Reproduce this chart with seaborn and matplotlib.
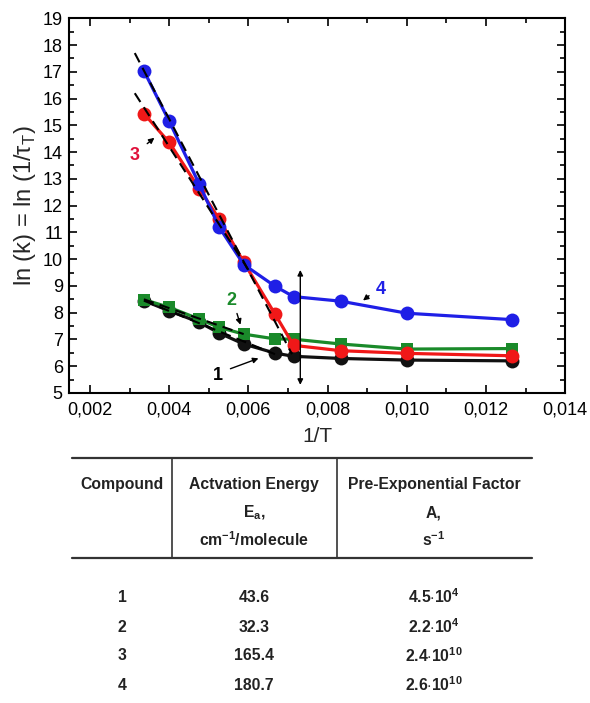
import matplotlib
matplotlib.use("Agg")
import matplotlib.pyplot as plt
import matplotlib.ticker as mticker
import pandas as pd
import seaborn as sns

# inverse temperature, 1/T
inv_t = [0.00336, 0.00400, 0.00476, 0.00526, 0.00588, 0.00667,
         0.00714, 0.00833, 0.01000, 0.01266]

ln_k_1 = [8.45, 8.07, 7.64, 7.24, 6.83, 6.49, 6.37, 6.29, 6.23, 6.20]
ln_k_2 = [8.49, 8.20, 7.76, 7.45, 7.20, 7.02, 7.01, 6.83, 6.64, 6.66]
ln_k_3 = [15.44, 14.36, 12.63, 11.50, 9.89, 7.95, 6.78, 6.58, 6.48, 6.39]
ln_k_4 = [17.04, 15.15, 12.80, 11.20, 9.80, 8.99, 8.60, 8.43, 7.98, 7.74]

# dashed Arrhenius fits (end points)
fit_x_1 = [0.00336, 0.00667]
fit_y_1 = [8.45, 6.45]
fit_x_2 = [0.00336, 0.00588]
fit_y_2 = [8.50, 7.20]
fit_x_3 = [0.00313, 0.00600]
fit_y_3 = [16.20, 9.60]
fit_x_4 = [0.00313, 0.00710]
fit_y_4 = [17.70, 6.45]

compounds = ["1", "2", "3", "4"]
act_energy = ["43.6", "32.3", "165.4", "180.7"]
pre_exp = [r"4.5$\cdot$10$^\mathbf{4}$", r"2.2$\cdot$10$^\mathbf{4}$",
           r"2.4$\cdot$10$^\mathbf{10}$", r"2.6$\cdot$10$^\mathbf{10}$"]

colors = {"1": "#111111", "2": "#1a8a2a", "3": "#f01818", "4": "#1f1fe6"}

sns.set_theme(style="ticks")
plt.rcParams["font.family"] = ["Liberation Sans", "DejaVu Sans"]
plt.rcParams["mathtext.fontset"] = "custom"
plt.rcParams["mathtext.rm"] = "Liberation Sans"
plt.rcParams["mathtext.bf"] = "Liberation Sans:bold"

df = pd.DataFrame({
    "inv_t": inv_t * 4,
    "ln_k": ln_k_1 + ln_k_2 + ln_k_3 + ln_k_4,
    "compound": [c for c in compounds for _ in inv_t],
})

fig = plt.figure(figsize=(5.9, 7.03), dpi=100)
ax = fig.add_axes([0.117, 0.441, 0.841, 0.533])

for c in compounds:
    sub = df[df["compound"] == c]
    sns.lineplot(
        data=sub, x="inv_t", y="ln_k", ax=ax,
        color=colors[c], marker="s" if c == "2" else "o",
        markersize=8 if c == "2" else 10,
        markeredgewidth=0, linewidth=2.3, legend=False,
        zorder=3,
    )

fits = pd.DataFrame({
    "x": fit_x_1 + fit_x_2 + fit_x_3 + fit_x_4,
    "y": fit_y_1 + fit_y_2 + fit_y_3 + fit_y_4,
    "fit": ["1", "1", "2", "2", "3", "3", "4", "4"],
})
for f in compounds:
    sub = fits[fits["fit"] == f]
    sns.lineplot(data=sub, x="x", y="y", ax=ax, color="black",
                 linewidth=1.5, linestyle=(0, (5, 3)), legend=False, zorder=4)

# vertical marker of the transition
ax.annotate("", xy=(0.00731, 5.2), xytext=(0.00731, 9.7),
            arrowprops=dict(arrowstyle="<|-|>", color="black", lw=1.0,
                            mutation_scale=8), zorder=5)

arrow = dict(arrowstyle="-|>", color="black", lw=1.0, mutation_scale=8)
ax.annotate("", xy=(0.00632, 6.33), xytext=(0.00548, 5.87), arrowprops=arrow)
ax.text(0.00522, 5.65, "1", color="black", fontsize=13, fontweight="bold",
        ha="center", va="center")
ax.annotate("", xy=(0.00582, 7.45), xytext=(0.00569, 8.07), arrowprops=arrow)
ax.text(0.00557, 8.45, "2", color=colors["2"], fontsize=13, fontweight="bold",
        ha="center", va="center")
ax.annotate("", xy=(0.00368, 14.6), xytext=(0.00339, 14.25), arrowprops=arrow)
ax.text(0.00313, 13.88, "3", color="#e0103a", fontsize=13, fontweight="bold",
        ha="center", va="center")
ax.annotate("", xy=(0.00884, 8.39), xytext=(0.0091, 8.7), arrowprops=arrow)
ax.text(0.00935, 8.86, "4", color=colors["4"], fontsize=13, fontweight="bold",
        ha="center", va="center")

ax.set_xlim(0.00147, 0.014)
ax.set_ylim(5, 19)
ax.xaxis.set_major_locator(mticker.MultipleLocator(0.002))
ax.xaxis.set_minor_locator(mticker.MultipleLocator(0.001))
ax.yaxis.set_major_locator(mticker.MultipleLocator(1))
ax.yaxis.set_minor_locator(mticker.MultipleLocator(0.5))
ax.xaxis.set_major_formatter(
    mticker.FuncFormatter(lambda v, p: f"{v:.3f}".replace(".", ",")))
ax.tick_params(which="both", direction="in", top=True, right=True,
               width=1.2, colors="black", labelsize=13)
ax.tick_params(which="major", length=6)
ax.tick_params(which="minor", length=3.5)
ax.tick_params(axis="x", which="major", pad=6)
ax.tick_params(axis="y", which="major", pad=4.5)
for s in ax.spines.values():
    s.set_linewidth(1.5)
    s.set_color("black")
ax.set_xlabel("1/T", fontsize=15, labelpad=6)
ax.set_ylabel("ln (k) = ln (1/τ$_\\mathrm{T}$)", fontsize=17, labelpad=3)

# table beneath the plot
tab = fig.add_axes([0, 0, 1, 1], facecolor="none")
tab.set_xlim(0, 590)
tab.set_ylim(703, 0)
tab.axis("off")
tab.plot([72, 532], [458, 458], color="#333333", lw=1.6)
tab.plot([72, 532], [558, 558], color="#333333", lw=1.6)
tab.plot([172, 172], [458, 558], color="#333333", lw=1.2)
tab.plot([337, 337], [458, 558], color="#333333", lw=1.2)

kw = dict(ha="center", va="center", fontsize=11.3, fontweight="bold",
          color="#222222")
col_x = [122, 254, 434]
tab.text(col_x[0], 484, "Compound", **kw)
tab.text(col_x[1], 484, "Actvation Energy", **kw)
tab.text(col_x[1], 513, r"E$_\mathbf{a}$,", **kw)
tab.text(col_x[1], 540, r"cm$^\mathbf{-1}$/molecule", **kw)
tab.text(col_x[2], 484, "Pre-Exponential Factor", **kw)
tab.text(col_x[2], 513, "A,", **kw)
tab.text(col_x[2], 540, r"s$^\mathbf{-1}$", **kw)

row_y = [597, 627, 656, 685]
for y, c, e, a in zip(row_y, compounds, act_energy, pre_exp):
    tab.text(col_x[0], y, c, **kw)
    tab.text(col_x[1], y, e, **kw)
    tab.text(col_x[2], y, a, **kw)

fig.savefig("out.png", dpi=100)
plt.close(fig)
